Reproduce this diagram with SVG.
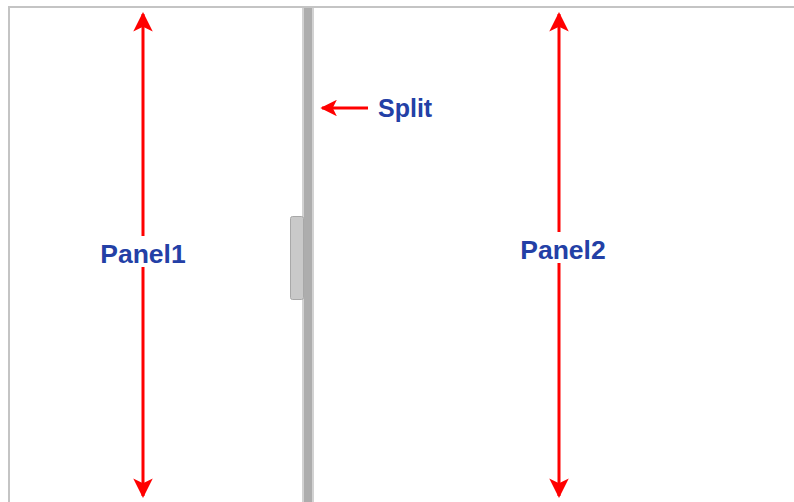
<svg xmlns="http://www.w3.org/2000/svg" width="794" height="502" viewBox="0 0 794 502">
  <defs>
    <style>
      .frame { fill: none; stroke: #c4c4c4; stroke-width: 2; }
      .dim { stroke: #ff0000; stroke-width: 3; fill: none; }
      .lbl { font-family: "Liberation Sans", Arial, sans-serif; font-weight: bold; font-size: 25px; fill: #2340a6; }
      .big { font-size: 26.5px; }
      .bg { fill: #ffffff; }
    </style>
    <marker id="head" viewBox="0 0 10 10" refX="9" refY="5" markerWidth="6.5" markerHeight="6.5" markerUnits="strokeWidth" orient="auto-start-reverse">
      <path d="M0,0 L10,5 L0,10 L2.5,5 Z" fill="#ff0000"/>
    </marker>
    <marker id="headSmall" viewBox="0 0 10 10" refX="9" refY="5" markerWidth="5.5" markerHeight="5.5" markerUnits="strokeWidth" orient="auto">
      <path d="M0,0 L10,5 L0,10 L2.5,5 Z" fill="#ff0000"/>
    </marker>
  </defs>

  <rect width="794" height="502" fill="#ffffff"/>

  <!-- container frame: top and left edges -->
  <path class="frame" d="M9,502 V7 H794"/>

  <!-- splitter bar -->
  <g id="splitter">
    <rect x="302" y="8" width="12" height="494" fill="#d2d2d2"/>
    <rect x="304" y="8" width="8" height="494" fill="#adadad"/>
    <rect x="290.5" y="216.5" width="13" height="83" rx="2" ry="2" fill="#c9c9c9" stroke="#a8a8a8" stroke-width="1"/>
  </g>

  <!-- dimension arrows -->
  <g id="connectors">
    <line class="dim" x1="143" y1="14" x2="143" y2="496" marker-start="url(#head)" marker-end="url(#head)"/>
    <line class="dim" x1="559" y1="14" x2="559" y2="496" marker-start="url(#head)" marker-end="url(#head)"/>
    <line class="dim" x1="368" y1="108" x2="322" y2="108" marker-end="url(#headSmall)"/>
  </g>

  <g id="panel1">
    <rect class="bg" x="97" y="236" width="92" height="31"/>
    <text class="lbl big" x="143" y="263" text-anchor="middle">Panel1</text>
  </g>

  <g id="panel2">
    <rect class="bg" x="517" y="232" width="92" height="31"/>
    <text class="lbl big" x="563" y="259" text-anchor="middle">Panel2</text>
  </g>

  <g id="split">
    <text class="lbl" x="378" y="117">Split</text>
  </g>
</svg>
